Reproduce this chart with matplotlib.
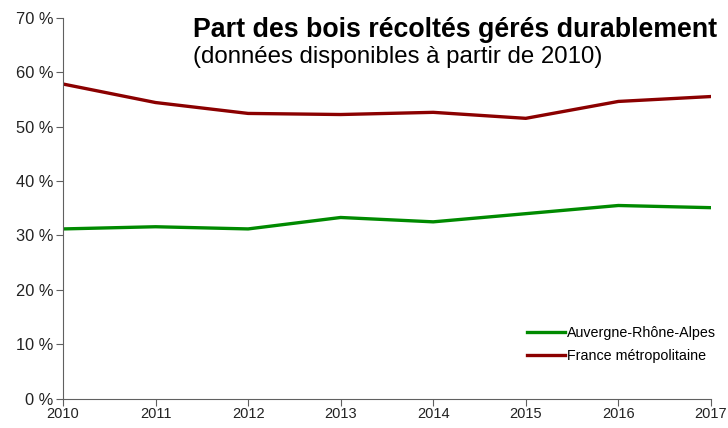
import matplotlib.pyplot as plt
from matplotlib.ticker import FuncFormatter

plt.rcParams["font.family"] = ["Liberation Sans", "DejaVu Sans"]

years = [2010, 2011, 2012, 2013, 2014, 2015, 2016, 2017]
auvergne = [31.2, 31.6, 31.2, 33.3, 32.5, 34.0, 35.5, 35.1]
france = [57.8, 54.4, 52.4, 52.2, 52.6, 51.5, 54.6, 55.5]

fig = plt.figure(figsize=(7.28, 4.28), dpi=100)
ax = fig.add_axes([0.0865, 0.068, 0.890, 0.891])

ax.plot(years, auvergne, color="#008a00", lw=2.4, label="Auvergne-Rhône-Alpes")
ax.plot(years, france, color="#8b0000", lw=2.4, label="France métropolitaine")

ax.set_xlim(2010, 2017)
ax.set_ylim(0, 70)
ax.set_xticks(years)
ax.set_yticks(range(0, 71, 10))
ax.yaxis.set_major_formatter(FuncFormatter(lambda v, _: f"{v:.0f} %"))

for side in ("top", "right"):
    ax.spines[side].set_visible(False)
for side in ("left", "bottom"):
    ax.spines[side].set_color("#606060")
ax.tick_params(colors="#606060", labelcolor="#222222", length=5, pad=2)
ax.tick_params(axis="y", labelsize=11.8)
ax.tick_params(axis="x", labelsize=10.5, pad=1)

# titre + sous-titre
fig.text(193 / 728, 1 - 37 / 428, "Part des bois récoltés gérés durablement",
         fontsize=19.3, fontweight="bold", va="baseline")
fig.text(193 / 728, 1 - 63 / 428, "(données disponibles à partir de 2010)",
         fontsize=17.3, va="baseline")

ax.legend(loc="upper left", bbox_to_anchor=(527 / 728, 1 - 326 / 428),
          bbox_transform=fig.transFigure, frameon=False, borderpad=0,
          borderaxespad=0, fontsize=10.3, handlelength=2.65,
          handletextpad=0.15, labelspacing=0.62)

fig.savefig("out.png", dpi=100)
